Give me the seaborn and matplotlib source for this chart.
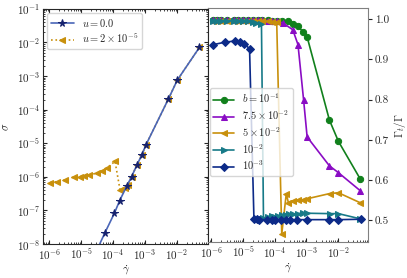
import numpy as np
import seaborn as sns
import matplotlib.pyplot as plt
from matplotlib.ticker import LogLocator, NullFormatter

# left panel: sigma vs shear rate
gd_u0 = [3.2e-5, 5.6e-5, 1.1e-4, 1.6e-4, 2.7e-4, 3.8e-4, 5.5e-4, 8e-4, 1.05e-3, 5.4e-3, 1.02e-2, 5e-2]
sig_u0 = [7e-9, 2.2e-8, 8.3e-8, 1.95e-7, 5.4e-7, 1.02e-6, 2.2e-6, 4.6e-6, 8.7e-6, 2.1e-4, 7.6e-4, 7.1e-3]
gd_u2 = [1.07e-6, 1.74e-6, 3.2e-6, 6e-6, 9.3e-6, 1.26e-5, 1.8e-5, 3.1e-5, 4.5e-5, 6.3e-5, 1.15e-4,
         1.66e-4, 2.3e-4, 2.9e-4, 3.8e-4, 5.5e-4, 8e-4, 1.05e-3, 5.4e-3, 1.02e-2, 5e-2]
sig_u2 = [6.8e-7, 7.2e-7, 8.1e-7, 1.0e-6, 1.02e-6, 1.07e-6, 1.15e-6, 1.29e-6, 1.45e-6, 1.82e-6, 2.9e-6,
          4.0e-7, 4.7e-7, 5.9e-7, 1.02e-6, 2.2e-6, 4.6e-6, 8.7e-6, 2.1e-4, 7.6e-4, 7.1e-3]

# right panel: Gamma_t / Gamma vs shear rate
low = [1.1e-6, 1.5e-6, 2e-6, 3e-6, 5e-6, 7e-6, 1e-5, 1.4e-5, 2e-5, 3e-5]
gd_b1 = low + [4e-5, 6e-5, 8e-5, 1.15e-4, 1.66e-4, 2.6e-4, 3.8e-4, 5.3e-4, 8e-4, 1.05e-3, 5.3e-3, 1.02e-2, 5e-2]
gt_b1 = [0.998] * 10 + [0.998, 0.998, 0.997, 0.997, 0.996, 0.995, 0.989, 0.983, 0.968, 0.956, 0.749, 0.696, 0.602]
gd_b75 = low + [4e-5, 6e-5, 8e-5, 1.15e-4, 1.8e-4, 3.7e-4, 5.4e-4, 8.1e-4, 1.05e-3, 5.3e-3, 1.02e-2, 5e-2]
gt_b75 = [0.999] * 10 + [0.998, 0.997, 0.996, 0.995, 0.991, 0.974, 0.937, 0.80, 0.707, 0.635, 0.618, 0.573]
gd_b5 = low + [4e-5, 6e-5, 8e-5, 1.15e-4, 1.66e-4, 2.3e-4, 2.7e-4, 3.8e-4, 5.5e-4, 8e-4, 1.05e-3,
               5.4e-3, 1.02e-2, 5e-2]
gt_b5 = [0.996] * 10 + [0.995, 0.995, 0.994, 0.994, 0.465, 0.565, 0.543, 0.548, 0.549, 0.551, 0.553,
                        0.566, 0.568, 0.543]
gd_b2 = low[:-1] + [2.6e-5, 3.8e-5, 4.4e-5, 6e-5, 8e-5, 1e-4, 1.3e-4, 1.66e-4, 2.3e-4, 2.9e-4, 3.8e-4,
                    5.5e-4, 8e-4, 1.05e-3, 5.4e-3, 1.02e-2, 5e-2]
gt_b2 = [0.997] * 8 + [0.993, 0.990, 0.988, 0.505, 0.508, 0.510, 0.508, 0.511, 0.512, 0.513, 0.515,
                       0.514, 0.516, 0.518, 0.517, 0.516, 0.516, 0.503]
gd_b3 = [1.15e-6, 2.7e-6, 5.5e-6, 7.9e-6, 1.07e-5, 1.6e-5, 2.2e-5, 2.75e-5, 3.2e-5, 5.5e-5, 7.9e-5,
         1e-4, 1.6e-4, 2.2e-4, 3e-4, 5.2e-4, 1.05e-3, 5.2e-3, 1.02e-2, 5.1e-2]
gt_b3 = [0.937, 0.943, 0.946, 0.943, 0.939, 0.927, 0.503, 0.502, 0.501, 0.501, 0.501,
         0.501, 0.501, 0.501, 0.501, 0.501, 0.501, 0.501, 0.501, 0.502]

right_series = [
    (gd_b1, gt_b1, 'o', '#11801c', r'$b=10^{-1}$'),
    (gd_b75, gt_b75, '^', '#8a0cc4', r'$7.5\times10^{-2}$'),
    (gd_b5, gt_b5, '<', '#c8900c', r'$5\times10^{-2}$'),
    (gd_b2, gt_b2, '>', '#177a88', r'$10^{-2}$'),
    (gd_b3, gt_b3, 'D', '#0c2a88', r'$10^{-3}$'),
]

sns.set_style('ticks')
plt.rcParams['font.family'] = ['serif']
plt.rcParams['font.serif'] = ['cmr10', 'DejaVu Serif']
plt.rcParams['mathtext.fontset'] = 'cm'
plt.rcParams['axes.formatter.use_mathtext'] = True
plt.rcParams['font.size'] = 8


def log_ticks(axis):
    axis.set_major_locator(LogLocator(base=10, numticks=20))
    axis.set_minor_locator(LogLocator(base=10, subs=np.arange(2, 10), numticks=20))
    axis.set_minor_formatter(NullFormatter())


fig = plt.figure(figsize=(4.07, 2.78), dpi=100)
ax1 = fig.add_axes([0.106, 0.122, 0.405, 0.846])
ax2 = fig.add_axes([0.511, 0.129, 0.393, 0.842])

# left panel
sns.lineplot(x=gd_u2, y=sig_u2, ax=ax1, marker='<', linestyle=':', color='#c8900c',
             markeredgecolor='#c8900c', markersize=4.5, lw=1.2, label=r'$u=2\times10^{-5}$', zorder=2)
sns.lineplot(x=gd_u0, y=sig_u0, ax=ax1, marker='*', color='#4a66b8', markerfacecolor='#16226e',
             markeredgecolor='#16226e', markersize=5.5, lw=1.2, label=r'$u=0.0$', zorder=3)
ax1.set_xscale('log')
ax1.set_yscale('log')
log_ticks(ax1.xaxis)
log_ticks(ax1.yaxis)
ax1.set_xlim(6.5e-7, 9.3e-2)
ax1.set_ylim(1e-8, 1e-1)
ax1.set_xlabel(r'$\dot{\gamma}$', labelpad=1)
ax1.set_ylabel(r'$\sigma$', labelpad=4)
ax1.tick_params(which='both', direction='in', top=True, right=True, labelsize=8, pad=2)
ax1.tick_params(which='major', length=3)
ax1.tick_params(which='minor', length=1.5)
h, l = ax1.get_legend_handles_labels()
ax1.legend(h[::-1], l[::-1], loc='upper left', fontsize=7.5, labelspacing=0.3,
           borderpad=0.35, handlelength=2.2, borderaxespad=0.4)

# right panel
for gd, gt, mk, col, lab in right_series:
    sns.lineplot(x=gd, y=gt, ax=ax2, marker=mk, color=col, markeredgecolor=col,
                 markersize=4.5 if mk != 'D' else 4, lw=1.2, label=lab)
ax2.set_xscale('log')
log_ticks(ax2.xaxis)
ax2.set_xlim(7.8e-7, 8.7e-2)
ax2.set_ylim(0.445, 1.028)
ax2.yaxis.tick_right()
ax2.yaxis.set_label_position('right')
ax2.set_yticks([0.5, 0.6, 0.7, 0.8, 0.9, 1.0])
ax2.set_yticklabels(['0.5', '0.6', '0.7', '0.8', '0.9', '1.0'])
ax2.set_ylabel(r'$\Gamma_t/\Gamma$', labelpad=2)
ax2.set_xlabel(r'$\dot{\gamma}$', labelpad=1)
ax2.tick_params(axis='x', which='both', direction='in', labelsize=8, pad=2)
ax2.tick_params(axis='x', which='major', length=3)
ax2.tick_params(axis='x', which='minor', length=1.5)
ax2.tick_params(axis='y', labelsize=8, length=3, pad=2)
for s in ['top', 'right', 'bottom']:
    ax2.spines[s].set_color('0.5')
ax2.legend(loc='center left', bbox_to_anchor=(0.0, 0.47), fontsize=7.5, labelspacing=0.3,
           borderpad=0.35, handlelength=2.0, borderaxespad=0.15)

plt.savefig('out.png', dpi=100)
